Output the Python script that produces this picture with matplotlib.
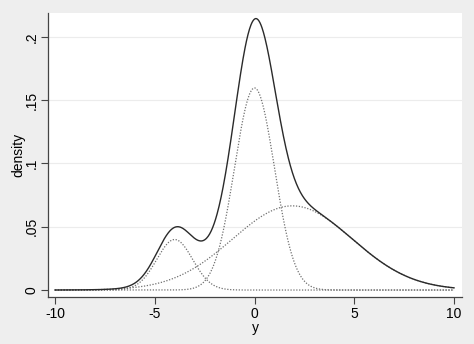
import numpy as np
import matplotlib as mpl
import matplotlib.pyplot as plt

mpl.rcParams['font.family'] = ['Liberation Sans', 'DejaVu Sans']
mpl.rcParams['font.size'] = 10.

# mixture components: mean, sd, weight
comp_mean = [-4.0, 0.0, 1.9]
comp_sd = [0.9, 1.0, 3.0]
comp_weight = [0.09, 0.40, 0.50]

xticks = [-10, -5, 0, 5, 10]
yticks = [0, 0.05, 0.1, 0.15, 0.2]
ytick_labels = ['0', '.05', '.1', '.15', '.2']

x = np.linspace(-10, 10, 801)
comps = []
for m, s, w in zip(comp_mean, comp_sd, comp_weight):
    comps.append(w / (s * np.sqrt(2 * np.pi)) * np.exp(-0.5 * ((x - m) / s) ** 2))
total = np.sum(comps, axis=0)

fig = plt.figure(figsize=(4.74, 3.44), dpi=100, facecolor='#eeeeee')
ax = fig.add_axes([48/474, 47/344, 414/474, 284/344])
ax.set_facecolor('white')

for yt in yticks[1:]:
    ax.axhline(yt, color='#ececec', lw=0.8, zorder=0)

for c in comps:
    ax.plot(x, c, color='#707070', lw=0.9, linestyle=(0, (1, 1.3)))
ax.plot(x, total, color='#2a2a2a', lw=1.0)

ax.set_xlim(-10.35, 10.4)
ax.set_ylim(-0.0055, 0.2188)
ax.set_xticks(xticks)
ax.set_xticklabels([str(t) for t in xticks])
ax.set_yticks(yticks)
ax.set_yticklabels(ytick_labels, rotation=90, va='center')
ax.tick_params(direction='out', length=5, width=0.8, color='#444444', labelcolor='black')
ax.tick_params(axis='y', pad=2)
ax.tick_params(axis='x', pad=2)
ax.set_xlabel('y', labelpad=0)
ax.set_ylabel('density', labelpad=-1)

for side in ['top', 'right']:
    ax.spines[side].set_visible(False)
for side in ['left', 'bottom']:
    ax.spines[side].set_color('#444444')
    ax.spines[side].set_linewidth(0.9)

fig.savefig('out.png', dpi=100, facecolor=fig.get_facecolor())
